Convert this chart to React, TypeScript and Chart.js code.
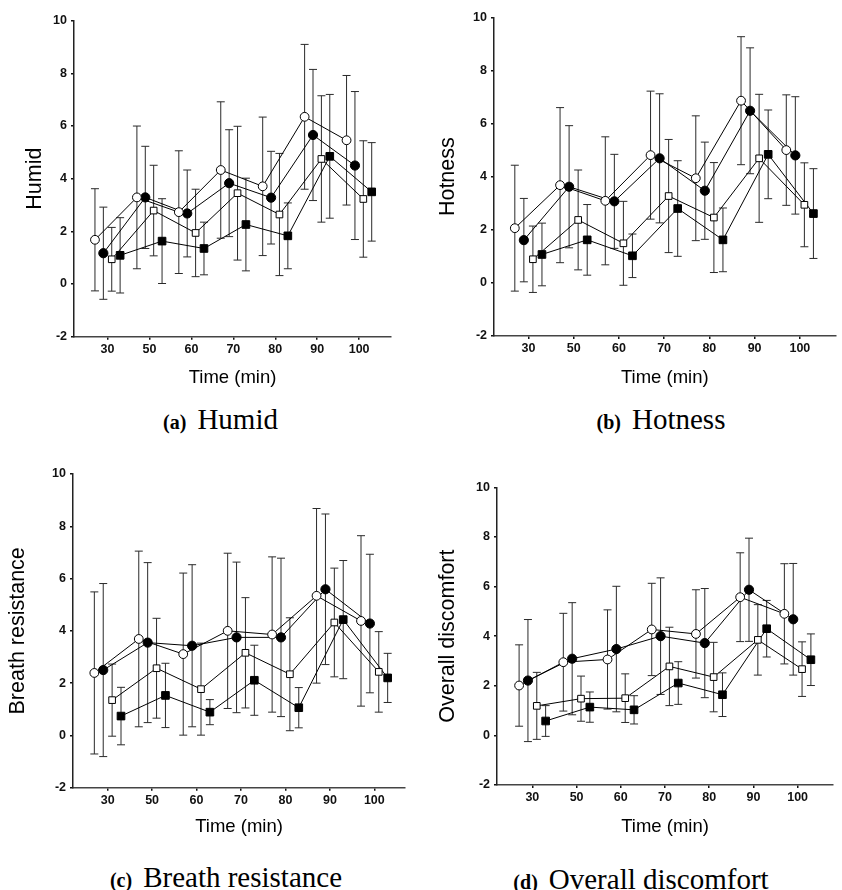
import React, { useEffect, useRef } from 'react';
import { Chart, registerables } from 'chart.js';

Chart.register(...registerables);

// ---------- data ----------
const TIME_LABELS = ['30', '50', '60', '70', '80', '90', '100'];
const Y_MIN = -2;
const Y_MAX = 10;
const Y_STEP = 2;

// (a) Humid
const HUMID_OPEN_CIRCLE = [1.68, 3.29, 2.73, 4.33, 3.71, 6.35, 5.46];
const HUMID_OPEN_CIRCLE_SD = [1.94, 2.71, 2.33, 2.59, 2.63, 2.75, 2.46];
const HUMID_FILLED_CIRCLE = [1.17, 3.29, 2.68, 3.83, 3.28, 5.66, 4.5];
const HUMID_FILLED_CIRCLE_SD = [1.75, 1.94, 1.65, 2.03, 1.76, 2.49, 2.81];
const HUMID_OPEN_SQUARE = [0.94, 2.79, 1.94, 3.45, 2.64, 4.75, 3.23];
const HUMID_OPEN_SQUARE_SD = [1.21, 1.72, 1.66, 2.54, 2.32, 2.4, 2.21];
const HUMID_FILLED_SQUARE = [1.09, 1.63, 1.35, 2.26, 1.83, 4.85, 3.5];
const HUMID_FILLED_SQUARE_SD = [1.43, 1.61, 1.0, 1.76, 1.25, 2.35, 1.87];

// (b) Hotness
const HOT_OPEN_CIRCLE = [2.06, 3.68, 3.09, 4.81, 3.94, 6.86, 5.0];
const HOT_OPEN_CIRCLE_SD = [2.37, 2.92, 2.41, 2.41, 2.35, 2.41, 2.08];
const HOT_FILLED_CIRCLE = [1.61, 3.62, 3.07, 4.69, 3.47, 6.48, 4.8];
const HOT_FILLED_CIRCLE_SD = [1.57, 2.3, 1.77, 2.43, 1.83, 2.37, 2.21];
const HOT_OPEN_SQUARE = [0.89, 2.37, 1.49, 3.27, 2.46, 4.69, 2.94];
const HOT_OPEN_SQUARE_SD = [1.25, 1.88, 1.58, 2.13, 2.07, 2.41, 1.58];
const HOT_FILLED_SQUARE = [1.07, 1.62, 1.02, 2.8, 1.62, 4.84, 2.61];
const HOT_FILLED_SQUARE_SD = [1.18, 1.33, 0.82, 1.8, 1.2, 1.67, 1.69];

// (c) Breath resistance
const BREATH_OPEN_CIRCLE = [2.39, 3.69, 3.11, 4.0, 3.86, 5.34, 4.38];
const BREATH_OPEN_CIRCLE_SD = [3.1, 3.36, 3.1, 2.97, 2.97, 3.34, 3.26];
const BREATH_FILLED_CIRCLE = [2.5, 3.55, 3.43, 3.75, 3.75, 5.59, 4.28];
const BREATH_FILLED_CIRCLE_SD = [3.31, 3.06, 3.1, 2.88, 3.03, 2.88, 2.65];
const BREATH_OPEN_SQUARE = [1.35, 2.57, 1.77, 3.16, 2.34, 4.32, 2.43];
const BREATH_OPEN_SQUARE_SD = [1.38, 1.91, 1.76, 2.11, 2.16, 2.08, 1.54];
const BREATH_FILLED_SQUARE = [0.74, 1.53, 0.89, 2.11, 1.06, 4.43, 2.2];
const BREATH_FILLED_SQUARE_SD = [1.1, 1.23, 0.48, 1.34, 0.77, 2.26, 0.94];

// (d) Overall discomfort
const OVERALL_OPEN_CIRCLE = [2.01, 2.95, 3.06, 4.27, 4.09, 5.57, 4.9];
const OVERALL_OPEN_CIRCLE_SD = [1.64, 1.97, 2.0, 1.86, 1.78, 1.79, 2.02];
const OVERALL_FILLED_CIRCLE = [2.21, 3.09, 3.48, 4.0, 3.72, 5.87, 4.68];
const OVERALL_FILLED_CIRCLE_SD = [2.46, 2.26, 2.53, 2.35, 2.2, 2.08, 2.25];
const OVERALL_OPEN_SQUARE = [1.19, 1.48, 1.5, 2.78, 2.35, 3.85, 2.67];
const OVERALL_OPEN_SQUARE_SD = [1.35, 0.91, 0.98, 1.58, 1.4, 1.42, 1.1];
const OVERALL_FILLED_SQUARE = [0.58, 1.14, 1.03, 2.11, 1.64, 4.3, 3.05];
const OVERALL_FILLED_SQUARE_SD = [0.62, 0.61, 0.57, 0.86, 0.88, 1.14, 1.04];

// ---------- styling / layout ----------
const SANS = '"Liberation Sans", Arial, Helvetica, sans-serif';
const SERIF = '"Liberation Serif", "Times New Roman", Times, serif';

const SERIES_STYLE = [
  { pointStyle: 'circle', filled: false, radius: 4.4, offset: -0.3 },
  { pointStyle: 'circle', filled: true, radius: 4.6, offset: -0.1 },
  { pointStyle: 'rect', filled: false, radius: 4.7, offset: 0.1 },
  { pointStyle: 'rect', filled: true, radius: 5.4, offset: 0.3 },
];

type PanelDef = {
  yTitle: string;
  letter: string;
  caption: string;
  means: number[][];
  sds: number[][];
  box: { x: number; y: number; w: number; h: number };
  yAxisWidth: number;
  padTop: number;
  padRight: number;
  xAxisHeight: number;
  xTitlePadBottom: number;
  yTitlePadTop: number;
  xMin: number;
  xMax: number;
  capX: number;
  capTop: number;
};

const PANELS: PanelDef[] = [
  {
    yTitle: 'Humid', letter: '(a)', caption: 'Humid',
    means: [HUMID_OPEN_CIRCLE, HUMID_FILLED_CIRCLE, HUMID_OPEN_SQUARE, HUMID_FILLED_SQUARE],
    sds: [HUMID_OPEN_CIRCLE_SD, HUMID_FILLED_CIRCLE_SD, HUMID_OPEN_SQUARE_SD, HUMID_FILLED_SQUARE_SD],
    box: { x: 0, y: 0, w: 420, h: 395 },
    yAxisWidth: 74, padTop: 20.7, padRight: 29, xAxisHeight: 58.3, xTitlePadBottom: 5.9, yTitlePadTop: 22,
    xMin: -0.8, xMax: 6.76, capX: 220.5, capTop: 405,
  },
  {
    yTitle: 'Hotness', letter: '(b)', caption: 'Hotness',
    means: [HOT_OPEN_CIRCLE, HOT_FILLED_CIRCLE, HOT_OPEN_SQUARE, HOT_FILLED_SQUARE],
    sds: [HOT_OPEN_CIRCLE_SD, HOT_FILLED_CIRCLE_SD, HOT_OPEN_SQUARE_SD, HOT_FILLED_SQUARE_SD],
    box: { x: 420, y: 0, w: 422, h: 395 },
    yAxisWidth: 74, padTop: 17.3, padRight: 5.3, xAxisHeight: 59, xTitlePadBottom: 5.9, yTitlePadTop: 15,
    xMin: -0.76, xMax: 6.79, capX: 661, capTop: 405,
  },
  {
    yTitle: 'Breath resistance', letter: '(c)', caption: 'Breath resistance',
    means: [BREATH_OPEN_CIRCLE, BREATH_FILLED_CIRCLE, BREATH_OPEN_SQUARE, BREATH_FILLED_SQUARE],
    sds: [BREATH_OPEN_CIRCLE_SD, BREATH_FILLED_CIRCLE_SD, BREATH_OPEN_SQUARE_SD, BREATH_FILLED_SQUARE_SD],
    box: { x: 0, y: 440, w: 420, h: 410 },
    yAxisWidth: 73, padTop: 34, padRight: 15, xAxisHeight: 62.3, xTitlePadBottom: 12.2, yTitlePadTop: 5,
    xMin: -0.78, xMax: 6.69, capX: 226, capTop: 863,
  },
  {
    yTitle: 'Overall discomfort', letter: '(d)', caption: 'Overall discomfort',
    means: [OVERALL_OPEN_CIRCLE, OVERALL_FILLED_CIRCLE, OVERALL_OPEN_SQUARE, OVERALL_FILLED_SQUARE],
    sds: [OVERALL_OPEN_CIRCLE_SD, OVERALL_FILLED_CIRCLE_SD, OVERALL_OPEN_SQUARE_SD, OVERALL_FILLED_SQUARE_SD],
    box: { x: 420, y: 440, w: 422, h: 410 },
    yAxisWidth: 77, padTop: 47.3, padRight: 9, xAxisHeight: 65, xTitlePadBottom: 12.2, yTitlePadTop: 15,
    xMin: -0.8, xMax: 6.8, capX: 641, capTop: 865,
  },
];

function buildConfig(p: PanelDef): any {
  const markerSets = p.means.map((vals, s) => {
    const st = SERIES_STYLE[s];
    return {
      data: vals.map((v, i) => ({ x: i + st.offset, y: v })),
      borderColor: '#000',
      borderWidth: 1,
      pointStyle: st.pointStyle,
      pointRadius: st.radius,
      pointBackgroundColor: st.filled ? '#000' : '#fff',
      pointBorderColor: '#000',
      pointBorderWidth: 1,
      tension: 0,
      fill: false,
    };
  });
  const errorSets = p.means.map((vals, s) => {
    const st = SERIES_STYLE[s];
    const sd = p.sds[s];
    const pts: any[] = [];
    vals.forEach((v, i) => {
      pts.push({ x: i + st.offset, y: v - sd[i] });
      pts.push({ x: i + st.offset, y: v + sd[i] });
      pts.push({ x: i + st.offset, y: null });
    });
    return {
      data: pts,
      borderColor: '#2a2a2a',
      borderWidth: 1,
      pointStyle: 'line',
      pointRadius: 4,
      pointBorderColor: '#2a2a2a',
      pointBorderWidth: 1,
      spanGaps: false,
      tension: 0,
      fill: false,
    };
  });

  const tickFont = { family: SANS, size: 12.5, weight: 'bold' as const };

  return {
    type: 'line',
    data: { datasets: [...markerSets, ...errorSets] },
    options: {
      animation: false,
      responsive: false,
      events: [],
      layout: { padding: { left: 0, top: p.padTop, right: p.padRight, bottom: 0 } },
      plugins: { legend: { display: false }, tooltip: { enabled: false }, title: { display: false } },
      scales: {
        x: {
          type: 'linear',
          min: p.xMin,
          max: p.xMax,
          afterBuildTicks: (scale: any) => {
            scale.ticks = TIME_LABELS.map((_, i) => ({ value: i }));
          },
          afterFit: (scale: any) => {
            scale.height = p.xAxisHeight;
          },
          ticks: {
            autoSkip: false,
            maxRotation: 0,
            padding: 2,
            color: '#111',
            font: tickFont,
            callback: (_v: any, idx: number) => TIME_LABELS[idx],
          },
          grid: {
            display: true,
            drawOnChartArea: false,
            drawTicks: true,
            tickLength: 3,
            lineWidth: 1.5,
            color: '#111',
          },
          border: { display: true, color: '#444', width: 1.5 },
          title: {
            display: true,
            text: 'Time (min)',
            color: '#000',
            font: { family: SANS, size: 18.5 },
            padding: { top: 0, bottom: p.xTitlePadBottom },
          },
        },
        y: {
          type: 'linear',
          min: Y_MIN,
          max: Y_MAX,
          afterFit: (scale: any) => {
            scale.width = p.yAxisWidth;
          },
          ticks: {
            stepSize: Y_STEP,
            padding: 4,
            color: '#111',
            font: tickFont,
          },
          grid: {
            display: true,
            drawOnChartArea: false,
            drawTicks: true,
            tickLength: 3,
            lineWidth: 1.5,
            color: '#111',
          },
          border: { display: true, color: '#222', width: 1.5 },
          title: {
            display: true,
            text: p.yTitle,
            color: '#000',
            font: { family: SANS, size: 21.5 },
            padding: { top: p.yTitlePadTop, bottom: 0 },
          },
        },
      },
    },
  };
}

function Panel({ p }: { p: PanelDef }) {
  const ref = useRef<HTMLCanvasElement>(null);
  useEffect(() => {
    const chart = new Chart(ref.current as HTMLCanvasElement, buildConfig(p));
    return () => chart.destroy();
  }, [p]);
  return (
    <>
      <canvas
        ref={ref}
        width={p.box.w}
        height={p.box.h}
        style={{ position: 'absolute', left: p.box.x, top: p.box.y, width: p.box.w, height: p.box.h }}
      />
      <div
        style={{
          position: 'absolute',
          left: p.capX,
          top: p.capTop,
          transform: 'translateX(-50%)',
          whiteSpace: 'nowrap',
          fontFamily: SERIF,
          fontSize: 29,
          lineHeight: '29px',
          color: '#000',
        }}
      >
        <span style={{ fontWeight: 'bold', fontSize: 20, marginRight: 11 }}>{p.letter}</span>
        {p.caption}
      </div>
    </>
  );
}

export default function App() {
  return (
    <div
      style={{
        position: 'absolute',
        left: 0,
        top: 0,
        width: 842,
        height: 890,
        background: '#fff',
        overflow: 'hidden',
      }}
    >
      {PANELS.map((p) => (
        <Panel key={p.letter} p={p} />
      ))}
    </div>
  );
}
